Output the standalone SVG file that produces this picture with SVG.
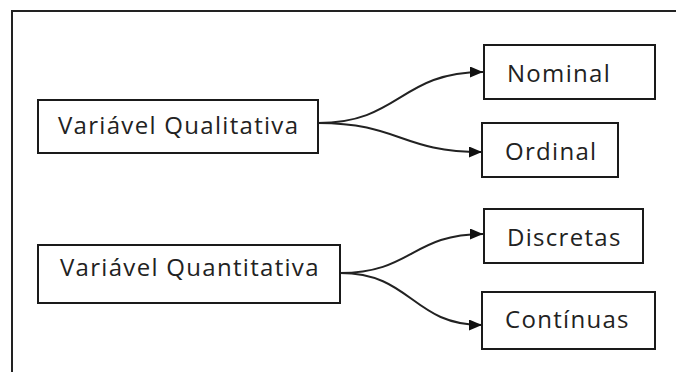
<svg xmlns="http://www.w3.org/2000/svg" width="676" height="372" viewBox="0 0 676 372">
<style>
.box{fill:#fff;stroke:#1a1a1a;stroke-width:2}
.lbl{font-family:"Open Sans","DejaVu Sans",sans-serif;font-size:24px;letter-spacing:1.3px;fill:#222}
.conn{fill:none;stroke:#222;stroke-width:2}
.frame{fill:none;stroke:#222;stroke-width:2}
</style>
<defs>
<marker id="arr" viewBox="0 0 13 11" refX="13" refY="5.5" markerWidth="13" markerHeight="11" markerUnits="userSpaceOnUse" orient="auto">
<path d="M0,0 L13,5.5 L0,11 Z" fill="#111"/>
</marker>
</defs>
<path class="frame" d="M12,372 V11 H676"/>
<g id="connectors">
<path class="conn" marker-end="url(#arr)" d="M318,123 C400,123 400,72 483,72"/>
<path class="conn" marker-end="url(#arr)" d="M318,123 C400,123 400,152 482,152"/>
<path class="conn" marker-end="url(#arr)" d="M340,273 C412,273 412,234 483,234"/>
<path class="conn" marker-end="url(#arr)" d="M340,273 C412,273 412,325 482,325"/>
</g>
<g id="qualitativa">
<rect class="box" x="38" y="100" width="280" height="53"/>
<text class="lbl" x="58" y="134">Variável Qualitativa</text>
</g>
<g id="nominal">
<rect class="box" x="484" y="45" width="171" height="54"/>
<text class="lbl" x="507" y="82">Nominal</text>
</g>
<g id="ordinal">
<rect class="box" x="482" y="123" width="136" height="54"/>
<text class="lbl" x="505" y="160">Ordinal</text>
</g>
<g id="quantitativa">
<rect class="box" x="38" y="245" width="302" height="58"/>
<text class="lbl" x="60" y="276">Variável Quantitativa</text>
</g>
<g id="discretas">
<rect class="box" x="484" y="209" width="159" height="54"/>
<text class="lbl" x="507" y="246">Discretas</text>
</g>
<g id="continuas">
<rect class="box" x="482" y="292" width="173" height="57"/>
<text class="lbl" x="505" y="328">Contínuas</text>
</g>
</svg>
